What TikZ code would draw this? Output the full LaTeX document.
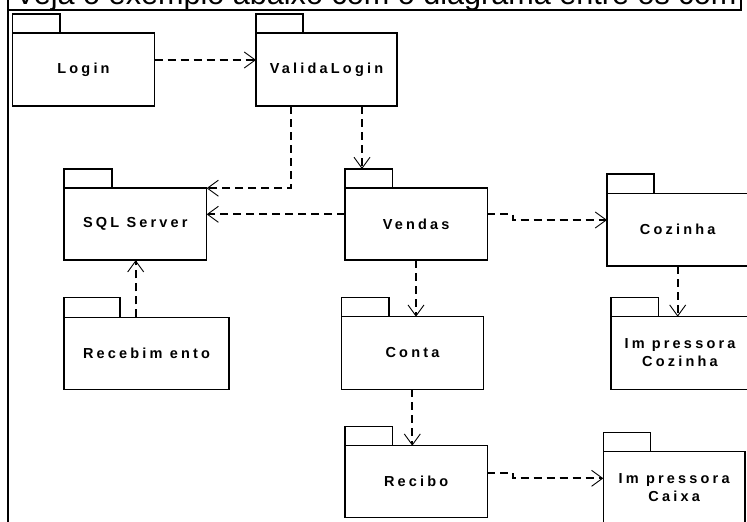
\documentclass[tikz,border=0pt]{standalone}
\usepackage{fontspec}
\setmainfont{Liberation Sans}
\newfontfamily\pkgfont{Liberation Sans}[LetterSpace=22]
\usetikzlibrary{arrows.meta}
\tikzset{
  pkg/.style={draw, line width=1.5pt, rectangle, inner sep=0pt, outer sep=0pt, align=center,
    font=\pkgfont\bfseries\fontsize{14.5}{18}\selectfont},
  tabbox/.style={draw, line width=1.5pt, rectangle, inner sep=0pt, outer sep=0pt, anchor=south west},
  dep/.style={line width=1.9pt, dash pattern=on 8pt off 5pt,
    -{Straight Barb[length=11pt,width=16pt,line width=0.9pt]}}
}
\begin{document}
\begin{tikzpicture}[x=1pt,y=-1pt]
\useasboundingbox (0,0) rectangle (747,522);
\fill[white] (0,0) rectangle (747,522);
\clip (0,0) rectangle (747,522);
% title (cut off at the top, as in the reference)
\node[anchor=base west, inner sep=0pt, font=\fontsize{30.6}{36}\selectfont] (title) at (15,4.5)
  {Veja o exemplo abaixo com o diagrama entre os com};
\draw[line width=1.5pt] (741,0) -- (741,10) -- (8,10);
\draw[line width=2.4pt] (8,0) -- (8,522);
% packages
\node[pkg, minimum width=142pt, minimum height=73pt] (Login) at (83.5,69.5) {Login};
\node[tabbox, minimum width=47.5pt, minimum height=19pt] (Login-tab) at (Login.north west) {};
\node[pkg, minimum width=141pt, minimum height=73pt] (ValidaLogin) at (326.5,69.5) {ValidaLogin};
\node[tabbox, minimum width=47pt, minimum height=19pt] (ValidaLogin-tab) at (ValidaLogin.north west) {};
\node[pkg, minimum width=142.5pt, minimum height=72pt] (SQL) at (135.4,224.2) {SQL Server};
\node[tabbox, minimum width=48pt, minimum height=19.3pt] (SQL-tab) at (SQL.north west) {};
\node[pkg, minimum width=142.3pt, minimum height=72pt] (Vendas) at (416.15,224) {Vendas};
\node[tabbox, minimum width=47.7pt, minimum height=19pt] (Vendas-tab) at (Vendas.north west) {};
\node[pkg, minimum width=141.5pt, minimum height=72.7pt] (Cozinha) at (677.75,229.65) {Cozinha};
\node[tabbox, minimum width=47pt, minimum height=19.3pt] (Cozinha-tab) at (Cozinha.north west) {};
\node[pkg, minimum width=138pt, minimum height=72.6pt] (ImpCoz) at (680,353) {Im pressora\\Cozinha};
\node[tabbox, minimum width=47.3pt, minimum height=19pt] (ImpCoz-tab) at (ImpCoz.north west) {};
\node[pkg, minimum width=141.6pt, minimum height=72.6pt] (Conta) at (412.5,353) {Conta};
\node[tabbox, minimum width=47.3pt, minimum height=19pt] (Conta-tab) at (Conta.north west) {};
\node[pkg, minimum width=165pt, minimum height=72pt] (Recebimento) at (146.5,353.3) {Recebim ento};
\node[tabbox, minimum width=56pt, minimum height=19.6pt] (Recebimento-tab) at (Recebimento.north west) {};
\node[pkg, minimum width=142.3pt, minimum height=72pt] (Recibo) at (416.15,481.7) {Recibo};
\node[tabbox, minimum width=47.3pt, minimum height=19pt] (Recibo-tab) at (Recibo.north west) {};
\node[pkg, minimum width=141.7pt, minimum height=72pt] (ImpCaixa) at (674.15,487.7) {Im pressora\\Caixa};
\node[tabbox, minimum width=47.4pt, minimum height=19.4pt] (ImpCaixa-tab) at (ImpCaixa.north west) {};
% dependencies
\draw[dep] (Login.east |- 0,60) -- (ValidaLogin.west |- 0,60);
\draw[dep] (ValidaLogin.south -| 362,0) -- (Vendas-tab.north -| 362,0);
\draw[dep] (ValidaLogin.south -| 291,0) |- (SQL.north east);
\draw[dep] (Vendas.west |- 0,214.3) -- (SQL.east |- 0,214.3);
\draw[dep] (Recebimento.north -| 135.7,0) -- (SQL.south -| 135.7,0);
\draw[dep] (Vendas.east |- 0,214.3) -- (513,214.3) -- (513,220) -- (Cozinha.west |- 0,220);
\draw[dep] (Cozinha.south -| 677.7,0) -- (ImpCoz.north -| 677.7,0);
\draw[dep] (Vendas.south -| 416,0) -- (Conta.north -| 416,0);
\draw[dep] (Conta.south -| 412.3,0) -- (Recibo.north -| 412.3,0);
\draw[dep] (Recibo.east |- 0,472.7) -- (513,472.7) -- (513,478.3) -- (ImpCaixa.west |- 0,478.3);
\end{tikzpicture}
\end{document}
